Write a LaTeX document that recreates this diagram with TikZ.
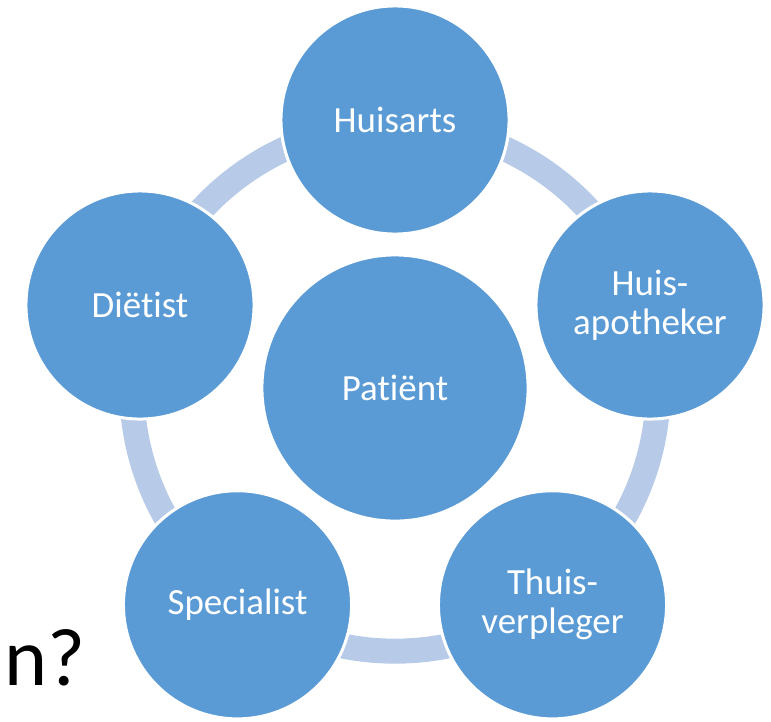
\documentclass[tikz,border=0pt]{standalone}
\usepackage{fontspec}
\setmainfont[Ligatures={NoCommon}]{Carlito}
\usepackage{tikz}
\definecolor{rolblue}{HTML}{5B9BD5}
\definecolor{ringblue}{HTML}{B7CBE8}
\tikzset{role/.style={circle, fill=rolblue, draw=white, line width=0.03cm,
    minimum size=2.28cm, inner sep=0pt, text=white, align=center,
    font=\fontsize{10.5pt}{11.1pt}\selectfont}}
\tikzset{centre/.style={role, minimum size=2.66cm}}
\tikzset{ring/.style={draw=ringblue, line width=0.25cm}}

\begin{document}
\begin{tikzpicture}[x=0.01cm, y=-0.01cm]
\useasboundingbox (0,0) rectangle (771,721);

\coordinate (mid) at (395, 388);

\draw [ring] (mid) circle [radius=2.63cm];

\node [centre] (pat) at (mid) {Patiënt};
\node [role] (arts) at (395, 120) {Huisarts};
\node [role] (apo) at (650, 305) {Huis-\\apotheker};
\node [role] (verpl) at (552.5, 604.8) {Thuis-\\verpleger};
\node [role] (spec) at (237.5, 604.8) {Specialist};
\node [role] (diet) at (140, 305) {Diëtist};

\node [anchor=base west, inner sep=0pt, font=\fontsize{23.3pt}{28pt}\selectfont] (vraag) at (4, 685) {n?};

\end{tikzpicture}
\end{document}
